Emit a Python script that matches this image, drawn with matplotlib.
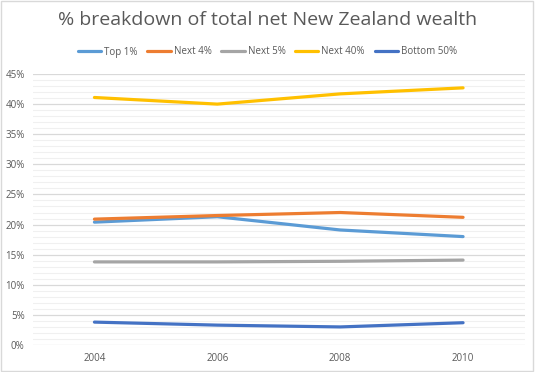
import matplotlib
matplotlib.use("Agg")
import matplotlib.pyplot as plt
from matplotlib.ticker import MultipleLocator, FuncFormatter
from matplotlib.patches import Rectangle

years = ["2004", "2006", "2008", "2010"]
top1 = [20.4, 21.3, 19.1, 18.0]
next4 = [20.9, 21.5, 22.0, 21.2]
next5 = [13.8, 13.8, 13.9, 14.1]
next40 = [41.1, 40.0, 41.7, 42.7]
bottom50 = [3.8, 3.3, 3.0, 3.7]

series = [
    ("Top 1%", top1, "#5B9BD5"),
    ("Next 4%", next4, "#ED7D31"),
    ("Next 5%", next5, "#A5A5A5"),
    ("Next 40%", next40, "#FFC000"),
    ("Bottom 50%", bottom50, "#4472C4"),
]

plt.rcParams['font.family'] = ['Open Sans', 'DejaVu Sans']
fig = plt.figure(figsize=(5.35, 3.72), dpi=100)
ax = fig.add_axes([33/535, 1-345/372, (524.5-33)/535, (345-74)/372])

x = list(range(len(years)))
for name, vals, col in series:
    ax.plot(x, vals, color=col, lw=2.3, label=name, solid_capstyle='round')

ax.set_xlim(-0.5, len(years)-0.5)
ax.set_ylim(0, 45)
ax.set_xticks(x)
ax.set_xticklabels(years)
ax.yaxis.set_major_locator(MultipleLocator(5))
ax.yaxis.set_minor_locator(MultipleLocator(1))
ax.yaxis.set_major_formatter(FuncFormatter(lambda v, p: f"{int(round(v))}%"))
ax.grid(which='major', axis='y', color='#D9D9D9', lw=0.9)
ax.grid(which='minor', axis='y', color='#F0F0F0', lw=0.8)
ax.set_axisbelow(True)
for s in ax.spines.values():
    s.set_visible(False)
ax.tick_params(axis='both', which='both', length=0, labelsize=7, colors='#595959', pad=6)

fig.text(0.5, 1-20/372, "% breakdown of total net New Zealand wealth", ha='center', va='center',
         fontsize=14, color='#595959')
leg = fig.legend(loc='center', bbox_to_anchor=(0.5, 1-52/372), ncol=5, frameon=False,
                 fontsize=7, handlelength=2.4, handletextpad=0.3, columnspacing=1.0)
for t in leg.get_texts():
    t.set_color('#595959')

fig.patches.append(Rectangle((0.002, 0.003), 0.995, 0.994, transform=fig.transFigure,
                             fill=False, edgecolor='#D9D9D9', lw=1))
fig.savefig("out.png", dpi=100)
